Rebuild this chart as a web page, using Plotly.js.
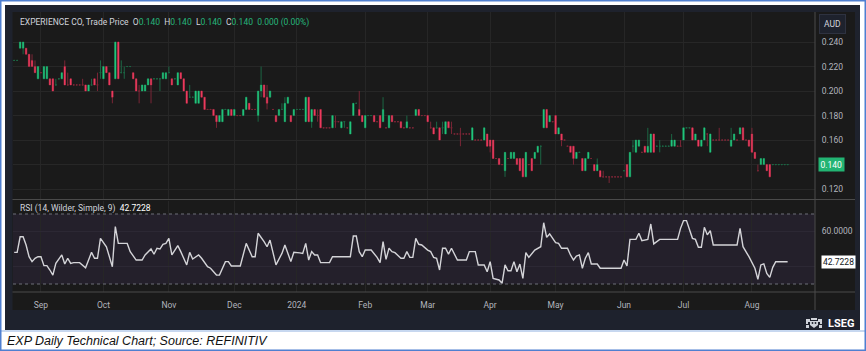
<!DOCTYPE html>
<html><head><meta charset="utf-8">
<script src="https://cdn.plot.ly/plotly-3.0.1.min.js"></script>
<style>html,body{margin:0;padding:0;background:#fff;}#chart{width:866px;height:351px;}</style>
</head><body><div id="chart"></div>
<script>
// Daily OHLC, EXPERIENCE CO (EXP), one entry per weekday from 2023-08-21
const open = [
.225,.225,.235,.235,.235,.230,.225,.220,.210,.215,
.210,.210,.210,.210,.205,.210,.210,.220,.205,.210,
.205,.205,.205,.205,.205,.200,.205,.210,.205,.215,
.210,.220,.215,.200,.210,.240,.215,.215,.220,.220,
.215,.210,.200,.200,.200,.205,.210,.210,.210,.210,
.210,.210,.215,.210,.210,.205,.215,.210,.200,.195,
.195,.190,.190,.200,.195,.185,.185,.185,.180,.175,
.175,.185,.180,.185,.180,.180,.180,.180,.185,.190,
.185,.185,.180,.200,.205,.195,.195,.185,.180,.180,
.185,.175,.190,.180,.180,.185,.185,.185,.175,.195,
.175,.185,.180,.185,.170,.170,.170,.170,.175,.175,
.170,.175,.170,.165,.180,.190,.185,.180,.170,.180,
.180,.180,.175,.180,.175,.170,.170,.180,.175,.175,
.175,.170,.170,.170,.170,.180,.185,.180,.180,.180,
.170,.170,.170,.170,.170,.165,.175,.170,.165,.165,
.165,.165,.165,.165,.160,.160,.160,.160,.160,.165,
.160,.160,.145,.145,.140,.135,.145,.145,.145,.145,
.145,.145,.130,.140,.145,.145,.150,.155,.170,.185,
.175,.175,.180,.165,.165,.160,.155,.155,.155,.145,
.150,.145,.135,.145,.145,.140,.135,.135,.130,.130,
.130,.130,.130,.130,.130,.135,.140,.130,.155,.150,
.155,.150,.155,.150,.150,.165,.155,.155,.155,.155,
.155,.155,.155,.155,.155,.160,.170,.170,.170,.160,
.160,.155,.160,.165,.150,.160,.160,.160,.160,.160,
.160,.155,.160,.160,.165,.170,.160,.160,.165,.150,
.135,.140,.140,.140,.140,.140,.140,.140,.140,.140,.140];
const high = [
.225,.225,.240,.240,.235,.230,.230,.225,.220,.215,
.220,.220,.210,.210,.210,.210,.215,.225,.215,.210,
.205,.205,.205,.210,.205,.205,.210,.210,.215,.225,
.220,.220,.215,.200,.240,.240,.225,.220,.220,.220,
.215,.210,.205,.205,.205,.210,.210,.210,.210,.210,
.215,.215,.220,.210,.210,.215,.215,.210,.200,.205,
.195,.200,.200,.200,.195,.185,.185,.185,.180,.180,
.185,.185,.185,.185,.185,.180,.180,.185,.195,.190,
.185,.185,.200,.220,.205,.205,.200,.185,.180,.185,
.190,.195,.195,.180,.185,.185,.185,.185,.195,.195,
.185,.185,.185,.185,.170,.170,.170,.180,.180,.175,
.175,.175,.170,.175,.190,.190,.200,.180,.180,.180,
.180,.180,.175,.180,.195,.170,.180,.180,.175,.175,
.175,.170,.180,.170,.170,.185,.185,.180,.180,.180,
.175,.170,.175,.170,.175,.175,.175,.175,.165,.165,
.170,.165,.165,.165,.170,.160,.160,.160,.170,.165,
.160,.160,.145,.145,.140,.150,.145,.150,.150,.145,
.145,.145,.150,.140,.145,.150,.155,.155,.185,.185,
.180,.175,.180,.170,.165,.160,.155,.155,.155,.150,
.150,.145,.145,.150,.145,.140,.145,.135,.135,.130,
.130,.130,.130,.130,.130,.135,.140,.150,.160,.160,
.160,.150,.155,.170,.165,.165,.155,.160,.155,.155,
.155,.165,.160,.155,.160,.170,.170,.170,.170,.165,
.160,.160,.170,.165,.165,.160,.160,.170,.160,.160,
.160,.170,.165,.160,.170,.170,.160,.160,.170,.150,
.140,.145,.145,.140,.140,.140,.140,.140,.140,.140,.140];
const low = [
.225,.225,.235,.230,.230,.220,.220,.215,.210,.215,
.210,.210,.205,.200,.205,.210,.210,.205,.205,.205,
.205,.205,.205,.205,.200,.200,.205,.205,.200,.210,
.210,.215,.205,.190,.210,.210,.215,.210,.220,.220,
.210,.200,.190,.200,.200,.205,.190,.210,.210,.200,
.210,.210,.215,.205,.210,.205,.210,.200,.190,.195,
.195,.190,.190,.195,.185,.185,.185,.180,.170,.175,
.175,.185,.180,.180,.180,.180,.180,.180,.185,.185,
.185,.185,.175,.195,.195,.185,.195,.185,.175,.180,
.185,.175,.190,.175,.180,.185,.185,.185,.175,.175,
.170,.180,.175,.170,.170,.170,.170,.170,.170,.175,
.170,.170,.170,.165,.180,.190,.180,.175,.170,.180,
.180,.175,.175,.170,.175,.170,.170,.175,.175,.175,
.170,.170,.170,.170,.170,.180,.180,.180,.180,.175,
.170,.165,.170,.160,.165,.165,.170,.165,.165,.165,
.155,.165,.165,.165,.160,.160,.160,.160,.160,.155,
.150,.145,.145,.140,.140,.130,.145,.145,.145,.140,
.135,.130,.130,.140,.135,.145,.150,.140,.170,.170,
.175,.175,.165,.165,.155,.160,.155,.150,.140,.145,
.150,.135,.135,.145,.145,.135,.135,.130,.130,.130,
.125,.130,.130,.130,.130,.135,.130,.130,.150,.150,
.155,.150,.150,.150,.150,.150,.155,.150,.155,.155,
.155,.155,.155,.155,.155,.160,.170,.170,.160,.160,
.155,.155,.160,.155,.150,.160,.160,.160,.160,.160,
.160,.155,.160,.160,.165,.160,.160,.155,.150,.145,
.135,.140,.140,.135,.130,.140,.140,.140,.140,.140,.140];
const close = [
.225,.225,.240,.240,.230,.220,.220,.215,.220,.215,
.220,.220,.205,.200,.205,.210,.215,.205,.205,.205,
.205,.205,.205,.205,.200,.205,.205,.205,.205,.215,
.220,.215,.205,.195,.240,.210,.215,.215,.220,.220,
.210,.200,.200,.205,.205,.210,.205,.210,.210,.210,
.215,.215,.215,.205,.210,.215,.210,.200,.190,.195,
.195,.200,.200,.195,.185,.185,.185,.180,.175,.180,
.185,.185,.185,.180,.185,.180,.180,.185,.195,.185,
.185,.185,.200,.205,.195,.190,.200,.185,.175,.185,
.185,.190,.195,.175,.185,.185,.185,.185,.195,.175,
.185,.180,.180,.170,.170,.170,.170,.180,.175,.175,
.175,.175,.170,.175,.190,.190,.180,.175,.180,.180,
.180,.175,.175,.170,.185,.170,.180,.175,.175,.175,
.170,.170,.175,.170,.170,.185,.180,.180,.180,.175,
.170,.165,.170,.160,.170,.175,.170,.170,.165,.165,
.165,.165,.165,.165,.170,.160,.160,.160,.170,.155,
.155,.145,.145,.140,.140,.150,.145,.150,.150,.140,
.135,.130,.150,.140,.135,.150,.155,.155,.185,.170,
.180,.175,.165,.170,.160,.160,.155,.150,.145,.150,
.150,.135,.145,.150,.145,.135,.140,.130,.130,.130,
.130,.130,.130,.130,.130,.135,.130,.150,.155,.160,
.160,.150,.150,.155,.165,.150,.155,.155,.155,.155,
.155,.160,.160,.155,.155,.170,.170,.170,.160,.165,
.155,.160,.170,.165,.165,.160,.160,.160,.160,.160,
.160,.160,.165,.160,.170,.160,.160,.155,.150,.145,
.135,.145,.145,.135,.130,.140,.140,.140,.140,.140,.140];

// RSI(14) turning points: bar number -> value
const rsiBar = [0,1,2,3,4,5,6,7,8,9,10,11,12,13,14,16,17,18,19,20,22,24,26,27,28,29,31,33,34,35,38,39,41,43,44,46,47,48,49,50,51,52,53,55,56,58,59,60,62,63,65,66,68,69,71,72,73,76,78,80,81,82,84,85,86,88,90,91,93,94,96,97,98,99,100,101,102,103,106,107,113,114,115,116,117,118,120,122,123,124,125,126,127,128,130,131,132,133,134,135,136,137,139,140,141,142,143,144,145,146,147,149,152,153,155,156,158,159,160,161,163,164,165,166,167,168,169,170,171,172,173,175,177,178,179,180,182,183,184,186,187,188,189,190,191,192,193,194,196,197,204,205,206,207,209,210,211,213,214,215,217,223,224,225,226,228,229,230,231,232,233,234,235,243,244,245,247,249,250,251,252,253,254,255,256,260];
const rsiVal = [48.1,48.1,57.0,57.0,52.3,45.6,42.8,44.7,45.6,45.6,40.5,40.5,38.0,35.1,41.8,46.6,41.4,44.7,41.8,42.2,42.2,39.3,48.1,44.7,44.7,56.1,51.3,39.9,62.8,53.2,53.2,48.5,43.7,43.7,46.6,50.0,47.0,50.4,50.0,52.7,53.2,56.1,46.6,51.9,48.5,40.9,48.1,44.3,46.6,44.7,39.9,39.0,35.1,35.1,42.8,42.8,40.3,40.3,53.2,45.6,45.6,59.0,54.2,51.3,55.1,40.9,47.5,52.3,42.8,48.1,47.8,47.5,53.2,43.7,48.5,46.6,46.6,42.2,42.2,45.6,45.6,57.4,57.4,48.5,45.6,49.4,49.4,45.2,42.2,54.2,44.1,50.4,48.5,47.9,44.7,44.7,48.5,45.2,45.2,56.1,52.7,52.3,49.4,48.5,45.2,44.7,38.0,50.4,50.4,47.1,50.4,43.7,43.7,48.5,48.5,40.9,40.9,37.0,42.8,33.2,32.3,30.4,40.9,37.6,37.6,42.8,37.0,41.4,33.2,47.9,45.2,49.4,51.3,65.0,56.7,58.6,53.6,53.2,50.4,50.4,46.6,43.7,46.0,46.6,39.0,44.7,47.9,41.4,41.4,39.0,39.0,43.7,40.3,55.5,55.5,59.0,54.8,55.5,64.3,52.9,55.5,55.5,61.8,66.2,66.2,56.1,55.5,51.0,51.0,62.4,58.1,60.5,52.3,52.3,61.8,51.3,45.6,39.0,32.7,40.9,41.5,36.0,33.8,39.5,42.7228,42.7228];

const monthTickDates = ['2023-09-01','2023-10-02','2023-11-01','2023-12-01','2024-01-01','2024-02-01','2024-03-01','2024-04-01','2024-05-01','2024-06-03','2024-07-01','2024-08-01'];
const monthTickText = ['Sep','Oct','Nov','Dec','2024','Feb','Mar','Apr','May','Jun','Jul','Aug'];
const priceTicks = [0.12,0.14,0.16,0.18,0.20,0.22,0.24];
const rsiTicks = [40,60];
const rsiTickText = ['','60.0000'];

function weekdays(start, n){
  const out=[]; const d=new Date(start+'T00:00:00Z');
  while(out.length<n){ const w=d.getUTCDay(); if(w!==0&&w!==6) out.push(d.toISOString().slice(0,10)); d.setUTCDate(d.getUTCDate()+1); }
  return out;
}
const dates = weekdays('2023-08-21', open.length);

const GREEN='#20c47b', RED='#ec3a5d', DIMG='#1c6644', DIMR='#7a2636';
const isBody = open.map((o,i)=>o!==close[i]);
const bO = open.map((o,i)=>isBody[i]?o:null);
const bC = close.map((c,i)=>isBody[i]?c:null);
const bH = open.map((o,i)=>isBody[i]?Math.max(o,close[i]):null);
const bL = open.map((o,i)=>isBody[i]?Math.min(o,close[i]):null);

const traces = [
 {type:'candlestick', x:dates, open:open, high:high, low:low, close:close, xaxis:'x', yaxis:'y',
  increasing:{line:{color:DIMG,width:1},fillcolor:DIMG}, decreasing:{line:{color:DIMR,width:1},fillcolor:DIMR},
  hoverinfo:'skip', showlegend:false},
 {type:'candlestick', x:dates, open:bO, high:bH, low:bL, close:bC, xaxis:'x', yaxis:'y',
  increasing:{line:{color:GREEN,width:0},fillcolor:GREEN}, decreasing:{line:{color:RED,width:0},fillcolor:RED},
  hoverinfo:'skip', showlegend:false},
 {type:'scatter', mode:'lines', x:rsiBar.map(k=>dates[k]), y:rsiVal, xaxis:'x', yaxis:'y2',
  line:{color:'#d4d4d8',width:1.4}, hoverinfo:'skip', showlegend:false}
];

const L=13, R=815, T=12, B=292, W=R-L, H=B-T;
const px=x=>(x-L)/W, py=y=>(B-y)/H;
const TXT='#b2b5be';
const crest = "data:image/svg+xml;utf8," + encodeURIComponent(
 "<svg xmlns='http://www.w3.org/2000/svg' width='18' height='12' viewBox='0 0 18 12'>" +
 "<g fill='#cfd3da'><path d='M1 2h4v3H3v2H1z'/><path d='M13 2h4v5h-2V5h-2z'/><path d='M6 1h6v2H6z'/>" +
 "<path d='M5 4h8v4l-4 3-4-3z'/><path d='M1 8h3v3H1z'/><path d='M14 8h3v3h-3z'/></g>" +
 "<g fill='#1e222d'><circle cx='7.5' cy='6' r='0.9'/><circle cx='10.5' cy='6' r='0.9'/></g></svg>");
const layout = {
 width:866, height:351, margin:{l:L,r:866-R,t:T,b:351-B,pad:0},
 paper_bgcolor:'#ffffff', plot_bgcolor:'rgba(0,0,0,0)',
 font:{family:'Roboto, sans-serif', size:8.5, color:TXT},
 boxgap:0.3,
 xaxis:{type:'category', range:[-0.4,269.2], anchor:'y2', tickvals:monthTickDates, ticktext:monthTickText,
   showgrid:true, gridcolor:'#262626', gridwidth:1, zeroline:false, showline:false,
   ticks:'outside', ticklen:5, tickcolor:'rgba(0,0,0,0)', tickfont:{size:8.5,color:TXT},
   rangeslider:{visible:false}, fixedrange:true},
 yaxis:{domain:[0.332,1], range:[0.1119,0.2645], side:'right', tickvals:priceTicks, tickformat:'.3f',
   showgrid:true, gridcolor:'#272727', zeroline:false, showline:false,
   ticks:'outside', ticklen:4, tickcolor:'rgba(0,0,0,0)', tickfont:{size:8.5,color:TXT}, fixedrange:true},
 yaxis2:{domain:[0,0.325], range:[25.43,77.43], side:'right', tickvals:rsiTicks, ticktext:rsiTickText,
   showgrid:true, gridcolor:'#2c2834', zeroline:false, showline:false,
   ticks:'outside', ticklen:4, tickcolor:'rgba(0,0,0,0)', tickfont:{size:8.5,color:TXT}, fixedrange:true},
 images:[{source:crest, xref:'paper', yref:'paper', x:px(805), y:py(317), sizex:18/W, sizey:12/H, xanchor:'left', yanchor:'top', sizing:'stretch', layer:'above'}],
 shapes:[
  {type:'rect', xref:'paper', yref:'paper', x0:px(5), x1:px(860), y0:py(330), y1:py(5), fillcolor:'#1e222d', line:{width:0}, layer:'below'},
  {type:'rect', xref:'paper', yref:'paper', x0:px(12.5), x1:px(855), y0:py(310), y1:py(12), fillcolor:'#1a1a1a', line:{width:0}, layer:'below'},
  {type:'rect', xref:'paper', yref:'y2', x0:0, x1:1, y0:30, y1:70, fillcolor:'rgba(126,87,194,0.10)', line:{width:0}, layer:'below'},
  {type:'line', xref:'paper', yref:'y2', x0:0, x1:1, y0:70, y1:70, line:{color:'#6d6f78',width:1,dash:'3px,3px'}},
  {type:'line', xref:'paper', yref:'y2', x0:0, x1:1, y0:30, y1:30, line:{color:'#6d6f78',width:1,dash:'3px,3px'}},
  {type:'line', xref:'paper', yref:'paper', x0:px(12.5), x1:px(855), y0:py(199.5), y1:py(199.5), line:{color:'#4a4a4a',width:1.2}},
  {type:'line', xref:'paper', yref:'paper', x0:px(12.5), x1:px(855), y0:py(292), y1:py(292), line:{color:'#4a4a4a',width:1.2}},
  {type:'line', xref:'paper', yref:'paper', x0:1, x1:1, y0:py(310), y1:py(12), line:{color:'#4a4a4a',width:1}},
  {type:'line', xref:'paper', yref:'paper', x0:px(0), x1:px(866), y0:py(331), y1:py(331), line:{color:'#8fb0e0',width:1}},
  {type:'rect', xref:'paper', yref:'paper', x0:px(0.75), x1:px(865.25), y0:py(350.25), y1:py(0.75), line:{color:'#4f7fd0',width:1.5}, fillcolor:'rgba(0,0,0,0)'}
 ],
 annotations:[
  {xref:'paper', yref:'paper', x:px(18), y:py(23), xanchor:'left', yanchor:'middle', showarrow:false,
   font:{size:8.5,color:'#d1d4dc'},
   text:"EXPERIENCE CO, Trade Price  O<span style='color:#26b67a'>0.140</span>  H<span style='color:#26b67a'>0.140</span>  L<span style='color:#26b67a'>0.140</span>  C<span style='color:#26b67a'>0.140</span>  <span style='color:#26b67a'>0.000 (0.00%)</span>"},
  {xref:'paper', yref:'paper', x:px(18), y:py(209), xanchor:'left', yanchor:'middle', showarrow:false,
   font:{size:8.5,color:'#d1d4dc'}, text:"RSI (14, Wilder, Simple, 9)  <span style='color:#ffffff'>42.7228</span>"},
  {xref:'paper', yref:'paper', x:px(832), y:py(24.5), xanchor:'center', yanchor:'middle', showarrow:false,
   font:{size:8.5,color:'#d1d4dc'}, text:'AUD', bgcolor:'#1e222d', bordercolor:'#2e3240', borderwidth:1, borderpad:4},
  {xref:'paper', yref:'y', x:px(818), y:0.140, xanchor:'left', yanchor:'middle', showarrow:false,
   font:{size:8.5,color:'#ffffff'}, text:'0.140', bgcolor:'#22b473', borderpad:1.5},
  {xref:'paper', yref:'y2', x:px(821), y:42.7228, xanchor:'left', yanchor:'middle', showarrow:false,
   font:{size:8.5,color:'#131722'}, text:'42.7228', bgcolor:'#ffffff', borderpad:1},
  {xref:'paper', yref:'paper', x:px(826), y:py(323), xanchor:'left', yanchor:'middle', showarrow:false,
   font:{size:11,color:'#ffffff'}, text:'<b>LSEG</b>'},
  {xref:'paper', yref:'paper', x:px(5), y:py(341), xanchor:'left', yanchor:'middle', showarrow:false,
   font:{family:'Liberation Sans, Arial, sans-serif', size:12.5, color:'#111111'},
   text:'<i>EXP Daily Technical Chart; Source: REFINITIV</i>'}
 ]
};
Plotly.newPlot('chart', traces, layout, {staticPlot:true, displayModeBar:false});
</script></body></html>
